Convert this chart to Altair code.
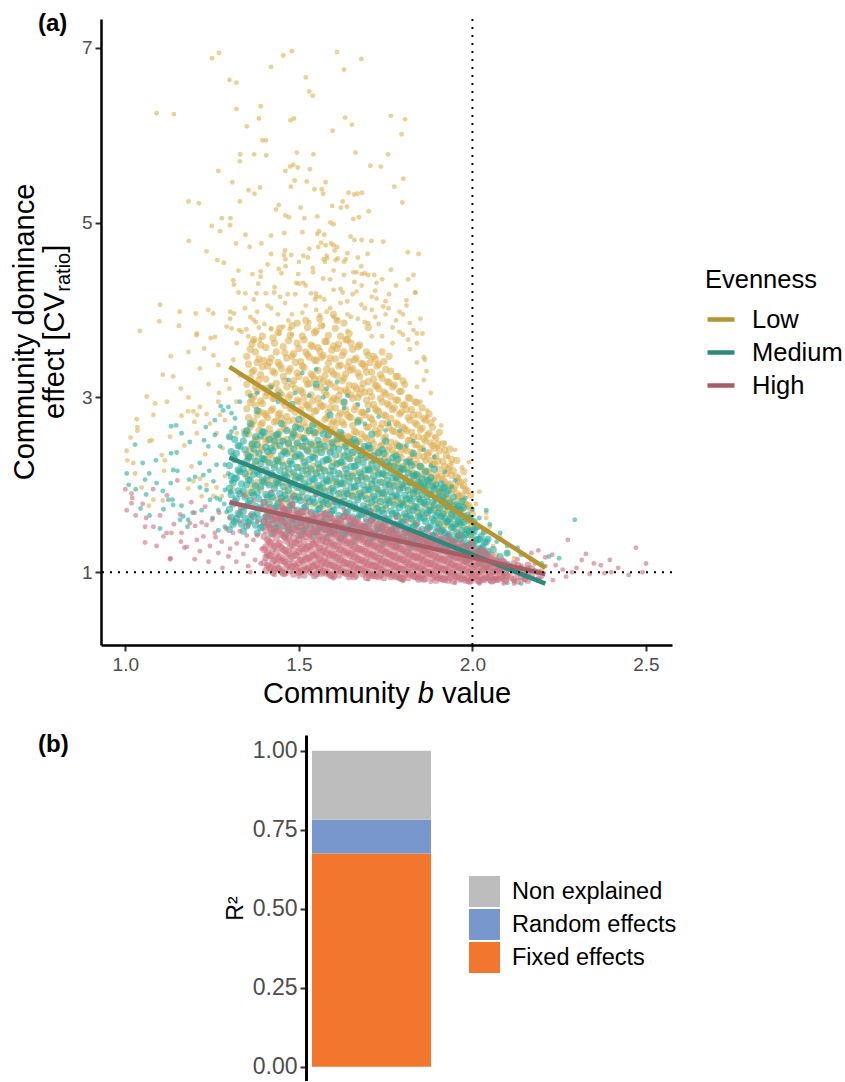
import altair as alt
import pandas as pd

# ------------------------------------------------------------------ panel (a) data
evenness_levels = ["Low", "Medium", "High"]

# dense parts of each cloud: (b value, [CV ratio values at that b])
low_columns = [
    (1.36, [1.92, 2.15, 2.41, 2.66, 2.94, 3.22, 3.55]),
    (1.38, [2.03, 2.28, 2.52, 2.80, 3.08, 3.40]),
    (1.35, [1.88, 2.10, 2.35, 2.60, 2.87, 3.15, 3.47]),
    (1.37, [1.98, 2.22, 2.47, 2.73, 3.01, 3.31, 3.66]),
    (1.40, [2.06, 2.30, 2.55, 2.82, 3.10, 3.42]),
    (1.42, [1.85, 2.08, 2.33, 2.58, 2.85, 3.13, 3.45]),
    (1.39, [1.95, 2.18, 2.43, 2.69, 2.96, 3.26, 3.60]),
    (1.41, [2.02, 2.26, 2.51, 2.77, 3.05, 3.36]),
    (1.44, [1.83, 2.05, 2.29, 2.54, 2.80, 3.08, 3.40, 3.74]),
    (1.46, [1.93, 2.15, 2.39, 2.64, 2.91, 3.19, 3.51]),
    (1.43, [2.00, 2.23, 2.47, 2.72, 2.99, 3.28, 3.62]),
    (1.45, [1.81, 2.03, 2.26, 2.50, 2.76, 3.03, 3.33]),
    (1.48, [1.90, 2.12, 2.36, 2.61, 2.87, 3.15, 3.47, 3.82]),
    (1.50, [1.98, 2.20, 2.44, 2.69, 2.95, 3.24, 3.56]),
    (1.47, [1.80, 2.01, 2.24, 2.48, 2.73, 3.00, 3.30, 3.65]),
    (1.49, [1.88, 2.10, 2.33, 2.57, 2.83, 3.10, 3.40]),
    (1.52, [1.96, 2.18, 2.41, 2.66, 2.92, 3.20, 3.52, 3.88]),
    (1.54, [1.78, 1.99, 2.21, 2.45, 2.70, 2.96, 3.25, 3.58]),
    (1.51, [1.86, 2.07, 2.30, 2.54, 2.79, 3.06, 3.36, 3.70]),
    (1.53, [1.94, 2.15, 2.38, 2.62, 2.88, 3.16, 3.46]),
    (1.56, [1.77, 1.98, 2.20, 2.43, 2.67, 2.93, 3.21, 3.53, 3.90]),
    (1.58, [1.85, 2.06, 2.28, 2.52, 2.77, 3.03, 3.32, 3.64]),
    (1.55, [1.93, 2.14, 2.36, 2.60, 2.85, 3.12, 3.42, 3.76]),
    (1.57, [1.76, 1.96, 2.18, 2.41, 2.65, 2.90, 3.18, 3.48]),
    (1.60, [1.84, 2.04, 2.26, 2.49, 2.73, 2.99, 3.27, 3.59, 3.95]),
    (1.62, [1.91, 2.12, 2.34, 2.57, 2.82, 3.08, 3.37, 3.70]),
    (1.59, [1.75, 1.95, 2.16, 2.39, 2.63, 2.88, 3.15, 3.45]),
    (1.61, [1.83, 2.03, 2.24, 2.47, 2.71, 2.97, 3.25, 3.56, 3.88]),
    (1.64, [1.90, 2.10, 2.32, 2.55, 2.80, 3.06, 3.35, 3.66]),
    (1.66, [1.73, 1.93, 2.14, 2.37, 2.61, 2.86, 3.13, 3.43]),
    (1.63, [1.81, 2.01, 2.22, 2.45, 2.69, 2.94, 3.22, 3.52, 3.85]),
    (1.65, [1.88, 2.08, 2.30, 2.53, 2.77, 3.03, 3.31, 3.62]),
    (1.68, [1.71, 1.91, 2.12, 2.34, 2.58, 2.83, 3.10, 3.39]),
    (1.70, [1.79, 1.98, 2.19, 2.42, 2.66, 2.91, 3.18, 3.48, 3.80]),
    (1.67, [1.86, 2.05, 2.27, 2.50, 2.74, 3.00, 3.28, 3.58]),
    (1.69, [1.69, 1.88, 2.09, 2.31, 2.55, 2.80, 3.06, 3.35]),
    (1.72, [1.77, 1.96, 2.17, 2.39, 2.62, 2.87, 3.14, 3.44]),
    (1.74, [1.84, 2.03, 2.24, 2.46, 2.70, 2.95, 3.22, 3.52]),
    (1.71, [1.67, 1.86, 2.06, 2.28, 2.51, 2.75, 3.01, 3.29]),
    (1.73, [1.75, 1.94, 2.14, 2.36, 2.59, 2.84, 3.10, 3.38]),
    (1.76, [1.82, 2.01, 2.21, 2.43, 2.66, 2.91, 3.17, 3.47]),
    (1.78, [1.65, 1.84, 2.04, 2.25, 2.47, 2.71, 2.97, 3.24]),
    (1.75, [1.73, 1.91, 2.11, 2.32, 2.55, 2.79, 3.04, 3.32]),
    (1.77, [1.80, 1.98, 2.18, 2.40, 2.62, 2.86, 3.12]),
    (1.80, [1.63, 1.81, 2.01, 2.21, 2.43, 2.66, 2.91, 3.19]),
    (1.82, [1.71, 1.89, 2.08, 2.29, 2.51, 2.74, 2.99]),
    (1.79, [1.78, 1.96, 2.15, 2.36, 2.58, 2.81, 3.07]),
    (1.81, [1.61, 1.79, 1.98, 2.18, 2.39, 2.62, 2.86]),
    (1.84, [1.69, 1.87, 2.05, 2.25, 2.46, 2.69, 2.94]),
    (1.86, [1.76, 1.93, 2.12, 2.32, 2.53, 2.76]),
    (1.83, [1.59, 1.76, 1.94, 2.13, 2.33, 2.55, 2.80]),
    (1.85, [1.67, 1.84, 2.02, 2.21, 2.41, 2.63]),
    (1.88, [1.74, 1.91, 2.09, 2.28, 2.48, 2.71]),
    (1.90, [1.57, 1.73, 1.90, 2.08, 2.27, 2.47]),
    (1.87, [1.65, 1.81, 1.98, 2.16, 2.35, 2.57]),
    (1.89, [1.72, 1.88, 2.05, 2.23, 2.42]),
    (1.92, [1.55, 1.70, 1.86, 2.03, 2.21, 2.40]),
    (1.94, [1.63, 1.78, 1.94, 2.11, 2.29]),
    (1.91, [1.48, 1.62, 1.77, 1.93, 2.10]),
    (1.93, [1.55, 1.69, 1.84, 2.00, 2.18]),
    (1.96, [1.42, 1.56, 1.71, 1.87, 2.04]),
    (1.98, [1.49, 1.63, 1.78, 1.94]),
    (1.95, [1.36, 1.50, 1.65, 1.81, 1.98]),
    (1.97, [1.43, 1.57, 1.72, 1.88]),
    (1.99, [1.31, 1.45, 1.60, 1.76]),
    (2.00, [1.38, 1.52, 1.67]),
    # in-between columns of the dense gold area above the teal band
    (1.355, [2.31, 2.58, 2.77, 3.05, 3.38]), (1.365, [2.45, 2.69, 2.98, 3.29, 3.61]),
    (1.375, [2.36, 2.52, 2.91, 3.12, 3.52]), (1.385, [2.62, 2.84, 3.20, 3.44]),
    (1.395, [2.40, 2.71, 2.93, 3.35, 3.70]), (1.405, [2.49, 2.80, 3.02, 3.21, 3.57]),
    (1.415, [2.35, 2.64, 3.11, 3.40]), (1.425, [2.55, 2.87, 2.99, 3.30, 3.68]),
    (1.435, [2.44, 2.73, 3.16, 3.52]), (1.445, [2.61, 2.82, 3.05, 3.37, 3.79]),
    (1.455, [2.38, 2.69, 2.95, 3.24, 3.58]), (1.465, [2.52, 2.78, 3.12, 3.45]),
    (1.475, [2.43, 2.88, 3.03, 3.33, 3.71]), (1.485, [2.57, 2.74, 3.19, 3.50]),
    (1.495, [2.47, 2.66, 2.97, 3.28, 3.62, 3.85]), (1.505, [2.55, 2.86, 3.08, 3.41]),
    (1.515, [2.44, 2.72, 3.00, 3.34, 3.66]), (1.525, [2.60, 2.91, 3.15, 3.49, 3.80]),
    (1.535, [2.48, 2.77, 3.03, 3.27, 3.60]), (1.545, [2.58, 2.84, 3.21, 3.43, 3.74]),
    (1.555, [2.46, 2.69, 2.99, 3.31, 3.57]), (1.565, [2.62, 2.90, 3.11, 3.46, 3.82]),
    (1.575, [2.50, 2.75, 3.06, 3.25, 3.64]), (1.585, [2.57, 2.83, 3.17, 3.39, 3.71]),
    (1.595, [2.45, 2.70, 2.96, 3.30, 3.54]), (1.605, [2.63, 2.88, 3.12, 3.44, 3.79]),
    (1.615, [2.52, 2.79, 3.02, 3.36, 3.61]), (1.625, [2.58, 2.72, 3.19, 3.48]),
    (1.635, [2.47, 2.86, 3.08, 3.27, 3.66]), (1.645, [2.55, 2.78, 3.14, 3.41, 3.73]),
    (1.655, [2.44, 2.68, 2.99, 3.33, 3.55]), (1.665, [2.60, 2.90, 3.10, 3.45]),
    (1.675, [2.49, 2.74, 3.04, 3.24, 3.60]), (1.685, [2.41, 2.83, 3.16, 3.38]),
    (1.695, [2.53, 2.66, 2.97, 3.29, 3.52]), (1.705, [2.36, 2.77, 3.07, 3.40]),
    (1.715, [2.47, 2.70, 2.92, 3.21, 3.47]), (1.725, [2.32, 2.58, 2.85, 3.13, 3.36]),
    (1.735, [2.44, 2.65, 2.99, 3.26]), (1.745, [2.29, 2.53, 2.80, 3.06, 3.41]),
    (1.755, [2.39, 2.71, 2.93, 3.18]), (1.765, [2.26, 2.49, 2.76, 3.01, 3.30]),
    (1.775, [2.35, 2.61, 2.88, 3.14]), (1.785, [2.22, 2.45, 2.69, 2.97, 3.24]),
    (1.795, [2.31, 2.56, 2.83, 3.07]), (1.805, [2.18, 2.41, 2.64, 2.92, 3.15]),
    (1.815, [2.27, 2.51, 2.77, 3.00]), (1.825, [2.14, 2.37, 2.60, 2.86]),
    (1.835, [2.23, 2.46, 2.71, 2.95]), (1.845, [2.10, 2.33, 2.55, 2.80]),
    (1.855, [2.19, 2.42, 2.65, 2.88]), (1.865, [2.06, 2.28, 2.50, 2.74]),
    (1.875, [2.15, 2.37, 2.59, 2.81]), (1.885, [2.02, 2.23, 2.45, 2.66]),
    (1.895, [1.96, 2.11, 2.32, 2.54]), (1.905, [1.92, 2.18, 2.39, 2.60]),
    (1.915, [1.88, 2.06, 2.27, 2.47]), (1.925, [1.84, 2.13, 2.34]),
    (1.935, [1.80, 2.01, 2.21, 2.41]), (1.945, [1.76, 1.95, 2.16]),
    (1.955, [1.72, 1.90, 2.09, 2.28]), (1.965, [1.68, 1.86, 2.03]),
    (1.975, [1.64, 1.81, 1.99, 2.15]), (1.985, [1.60, 1.77, 1.93]),
    (1.995, [1.56, 1.72, 1.88]),
]

low_scatter = [
    (1.09, 6.25), (1.14, 6.24), (1.25, 6.88), (1.27, 6.94), (1.30, 6.63), (1.32, 6.60), (1.455, 6.91),
    (1.48, 6.96), (1.42, 6.78), (1.61, 6.95), (1.68, 6.87), (1.63, 6.75), (1.52, 6.66), (1.53, 6.50),
    (1.54, 6.45), (1.32, 6.30), (1.39, 6.33), (1.385, 6.19), (1.35, 6.10), (1.476, 6.17), (1.486, 6.19),
    (1.633, 6.20), (1.653, 6.12), (1.597, 6.05), (1.765, 6.22), (1.806, 6.18), (1.796, 6.01),
    (1.395, 5.94), (1.405, 5.94), (1.331, 5.78), (1.330, 5.70), (1.371, 5.78), (1.406, 5.77),
    (1.494, 5.80), (1.542, 5.78), (1.663, 5.80), (1.757, 5.78), (1.706, 5.65), (1.736, 5.64),
    (1.268, 5.59), (1.308, 5.46), (1.475, 5.64), (1.484, 5.66), (1.461, 5.59), (1.497, 5.63),
    (1.532, 5.61), (1.477, 5.41), (1.488, 5.48), (1.523, 5.47), (1.577, 5.46), (1.801, 5.50),
    (1.775, 5.41), (1.355, 5.37), (1.372, 5.33), (1.388, 5.40), (1.545, 5.38), (1.566, 5.38),
    (1.570, 5.33), (1.643, 5.34), (1.659, 5.32), (1.669, 5.33), (1.682, 5.34), (1.182, 5.24),
    (1.212, 5.22), (1.330, 5.24), (1.434, 5.15), (1.442, 5.20), (1.505, 5.17), (1.596, 5.19),
    (1.626, 5.24), (1.621, 5.17), (1.639, 5.18), (1.701, 5.13), (1.798, 5.23), (1.278, 5.05),
    (1.303, 5.05), (1.302, 4.97), (1.249, 4.96), (1.273, 4.90), (1.461, 5.08), (1.471, 5.06),
    (1.516, 5.05), (1.553, 5.07), (1.657, 5.04), (1.673, 5.06), (1.591, 5.00), (1.600, 4.98),
    (1.553, 4.87), (1.558, 4.90), (1.573, 4.86), (1.458, 4.88), (1.510, 4.89), (1.183, 4.79),
    (1.234, 4.67), (1.265, 4.57), (1.284, 4.54), (1.319, 4.76), (1.346, 4.86), (1.358, 4.72),
    (1.392, 4.76), (1.420, 4.85), (1.556, 4.72), (1.564, 4.77), (1.577, 4.74), (1.593, 4.76),
    (1.600, 4.74), (1.649, 4.84), (1.660, 4.80), (1.681, 4.80), (1.698, 4.64), (1.709, 4.79),
    (1.743, 4.78), (1.814, 4.66), (1.845, 4.64), (1.420, 4.64), (1.457, 4.63), (1.461, 4.58),
    (1.478, 4.63), (1.513, 4.62), (1.526, 4.60), (1.571, 4.58), (1.581, 4.59), (1.603, 4.68),
    (1.612, 4.59), (1.635, 4.58), (1.640, 4.65), (1.326, 4.45), (1.366, 4.41), (1.390, 4.44),
    (1.410, 4.52), (1.442, 4.47), (1.462, 4.50), (1.498, 4.41), (1.541, 4.43), (1.575, 4.55),
    (1.606, 4.57), (1.657, 4.43), (1.666, 4.43), (1.681, 4.41), (1.690, 4.42), (1.717, 4.40),
    (1.724, 4.31), (1.765, 4.46), (1.815, 4.35), (1.836, 4.20), (1.253, 3.96), (1.311, 4.34),
    (1.313, 4.29), (1.302, 3.98), (1.313, 3.96), (1.326, 4.20), (1.346, 4.19), (1.378, 4.19),
    (1.383, 4.30), (1.405, 4.19), (1.429, 4.20), (1.446, 4.15), (1.468, 4.18), (1.492, 4.31),
    (1.500, 4.30), (1.513, 4.31), (1.535, 4.19), (1.549, 4.19), (1.547, 4.12), (1.561, 4.15),
    (1.573, 4.12), (1.600, 4.23), (1.626, 4.20), (1.655, 4.18), (1.666, 4.21), (1.681, 4.28),
    (1.724, 4.13), (1.743, 4.04), (1.758, 4.02), (1.810, 4.11), (1.835, 4.20), (1.863, 3.43),
    (1.868, 3.30), (1.815, 3.66), (1.830, 3.77), (1.856, 3.73), (1.205, 3.71), (1.227, 3.56),
    (1.182, 3.52), (1.258, 3.69), (1.292, 3.81), (1.306, 3.79), (1.328, 3.77), (1.349, 3.78),
    (1.376, 3.86), (1.371, 3.65), (1.388, 3.66), (1.420, 3.79), (1.444, 3.73), (1.455, 3.81),
    (1.474, 3.78), (1.52, 4.05), (1.58, 3.98), (1.62, 4.08), (1.64, 3.95), (1.69, 4.02),
    (1.72, 3.92), (1.75, 4.10), (1.78, 3.88), (1.80, 3.95), (1.67, 3.90), (1.60, 3.92),
    (1.55, 4.00), (1.48, 3.95), (1.42, 4.02), (1.38, 3.98), (1.71, 4.15), (1.59, 4.35),
    (1.63, 4.40), (1.70, 3.85), (1.74, 3.70), (1.77, 3.62), (1.79, 3.75), (1.82, 3.55),
    (1.84, 3.40), (1.86, 3.20), (1.88, 3.05), (1.85, 2.95), (1.87, 2.85), (1.89, 2.75),
    (1.91, 2.68), (1.86, 3.46), (1.84, 3.73), (1.84, 3.12), (1.87, 2.78), (1.89, 2.55),
    (1.90, 2.43), (1.92, 2.48), (1.93, 2.32), (1.94, 2.25), (1.99, 2.26), (1.96, 2.09),
    (1.97, 1.98), (2.04, 1.68), (2.04, 1.62), (2.03, 1.45), (2.00, 1.57), (2.12, 1.16),
    (2.17, 1.14), (2.02, 0.93), (2.03, 1.06), (2.06, 1.30), (2.08, 1.40), (2.10, 1.22),
    (2.14, 1.08), (2.20, 1.02), (2.01, 1.78), (2.05, 1.52), (2.07, 1.20), (1.95, 2.40),
    (1.97, 2.20), (1.98, 2.05), (2.02, 1.92),
    (1.004, 2.39), (1.006, 2.28), (1.015, 2.54), (1.035, 2.66), (1.035, 2.62), (1.023, 2.25),
    (1.028, 2.13), (1.047, 1.97), (1.069, 2.50), (1.076, 2.51), (1.086, 2.93), (1.105, 2.34),
    (1.114, 2.28), (1.112, 2.16), (1.081, 2.80), (1.129, 2.55), (1.162, 2.79), (1.181, 2.84),
    (1.206, 2.59), (1.196, 2.84), (1.207, 2.80), (1.215, 2.89), (1.199, 2.72), (1.234, 2.81),
    (1.244, 2.70), (1.268, 2.95), (1.263, 2.59), (1.273, 2.80), (1.287, 2.74), (1.300, 2.55),
    (1.321, 2.59), (1.191, 2.21), (1.196, 2.04), (1.181, 1.96), (1.215, 2.07), (1.234, 2.00),
    (1.263, 1.97), (1.254, 1.87), (1.287, 2.10), (1.278, 1.87), (1.220, 1.87), (1.068, 1.76),
    (1.081, 1.83), (1.108, 1.82), (1.042, 3.76), (1.098, 3.87), (1.155, 3.82), (1.206, 3.73),
    (1.246, 3.68), (1.131, 3.47), (1.108, 3.26), (1.062, 3.01), (1.033, 2.75), (1.138, 3.24),
    (1.182, 3.00), (1.215, 3.33), (1.254, 3.48), (1.268, 3.37), (1.311, 3.43), (1.321, 3.62),
    (1.354, 3.70), (1.369, 3.89), (1.302, 3.90), (1.100, 4.06), (1.157, 3.98), (1.203, 3.96),
    (1.239, 4.00), (1.31, 2.35), (1.32, 2.95), (1.33, 3.25), (1.34, 2.62), (1.30, 3.10),
    (1.31, 1.95), (1.29, 3.20), (1.33, 2.15), (1.27, 3.05), (1.24, 3.15), (1.16, 3.10),
    (1.12, 2.95), (1.17, 2.45), (1.23, 2.35), (1.28, 2.42),
    (1.36, 3.92), (1.37, 4.12), (1.39, 4.38), (1.40, 3.84), (1.41, 4.05), (1.43, 4.26),
    (1.44, 3.95), (1.45, 4.42), (1.46, 4.08), (1.47, 3.88), (1.49, 4.18), (1.50, 4.55),
    (1.51, 3.97), (1.52, 4.28), (1.53, 3.86), (1.54, 4.48), (1.55, 4.15), (1.56, 3.94),
    (1.57, 4.36), (1.58, 4.62), (1.59, 4.02), (1.60, 4.45), (1.61, 3.89), (1.62, 4.24),
    (1.63, 4.55), (1.64, 4.10), (1.65, 3.92), (1.66, 4.32), (1.67, 4.60), (1.68, 4.06),
    (1.69, 3.86), (1.70, 4.40), (1.71, 4.00), (1.72, 4.22), (1.73, 3.84), (1.74, 4.35),
    (1.75, 3.95), (1.76, 4.18), (1.77, 3.80), (1.78, 4.28), (1.79, 3.98), (1.80, 3.72),
    (1.81, 4.05), (1.82, 3.85), (1.83, 4.40), (1.84, 3.62), (1.85, 3.90), (1.53, 4.70),
    (1.46, 4.68), (1.61, 4.72), (1.68, 4.50), (1.42, 3.78), (1.48, 3.72), (1.57, 3.82),
    (1.64, 3.76), (1.71, 3.70), (1.385, 3.80), (1.345, 4.02), (1.335, 3.75),
]

medium_columns = [
    (1.31, [1.55, 1.78, 2.02, 2.31]),
    (1.33, [1.66, 1.90, 2.15, 2.44]),
    (1.30, [1.49, 1.72, 1.96, 2.22, 2.55]),
    (1.32, [1.61, 1.84, 2.08, 2.36]),
    (1.35, [1.53, 1.76, 2.00, 2.27, 2.62]),
    (1.37, [1.64, 1.88, 2.12, 2.41]),
    (1.34, [1.47, 1.70, 1.93, 2.18, 2.50]),
    (1.36, [1.59, 1.82, 2.05, 2.32, 2.70]),
    (1.39, [1.51, 1.74, 1.98, 2.24, 2.56]),
    (1.41, [1.63, 1.86, 2.10, 2.38]),
    (1.38, [1.45, 1.68, 1.91, 2.15, 2.46, 2.85]),
    (1.40, [1.57, 1.80, 2.03, 2.29, 2.60]),
    (1.43, [1.50, 1.73, 1.96, 2.20, 2.50]),
    (1.45, [1.62, 1.85, 2.08, 2.34, 2.70]),
    (1.42, [1.44, 1.67, 1.90, 2.13, 2.42]),
    (1.44, [1.56, 1.79, 2.02, 2.27, 2.58, 3.02]),
    (1.47, [1.48, 1.71, 1.94, 2.18, 2.47]),
    (1.49, [1.60, 1.83, 2.06, 2.32, 2.66]),
    (1.46, [1.43, 1.65, 1.88, 2.11, 2.38]),
    (1.48, [1.55, 1.77, 2.00, 2.24, 2.54, 2.92]),
    (1.51, [1.47, 1.69, 1.92, 2.16, 2.44]),
    (1.53, [1.59, 1.81, 2.04, 2.29, 2.62]),
    (1.50, [1.42, 1.63, 1.86, 2.09, 2.35, 2.75]),
    (1.52, [1.53, 1.75, 1.98, 2.22, 2.50]),
    (1.55, [1.46, 1.67, 1.90, 2.13, 2.40, 3.15]),
    (1.57, [1.57, 1.79, 2.02, 2.27, 2.58]),
    (1.54, [1.41, 1.62, 1.84, 2.07, 2.32, 2.68]),
    (1.56, [1.52, 1.73, 1.96, 2.19, 2.46]),
    (1.59, [1.45, 1.66, 1.88, 2.11, 2.37, 2.80]),
    (1.61, [1.56, 1.77, 2.00, 2.24, 2.53]),
    (1.58, [1.40, 1.61, 1.82, 2.05, 2.29, 2.64]),
    (1.60, [1.50, 1.71, 1.93, 2.16, 2.42]),
    (1.63, [1.44, 1.64, 1.86, 2.08, 2.33, 2.95]),
    (1.65, [1.54, 1.75, 1.97, 2.21, 2.49]),
    (1.62, [1.38, 1.59, 1.80, 2.02, 2.26, 2.60]),
    (1.64, [1.48, 1.69, 1.90, 2.13, 2.38]),
    (1.67, [1.42, 1.62, 1.83, 2.05, 2.29, 2.72]),
    (1.69, [1.52, 1.72, 1.94, 2.17, 2.44]),
    (1.66, [1.36, 1.56, 1.77, 1.98, 2.21, 2.52]),
    (1.68, [1.46, 1.66, 1.87, 2.09, 2.34]),
    (1.71, [1.40, 1.60, 1.80, 2.01, 2.24, 2.58]),
    (1.73, [1.50, 1.69, 1.90, 2.12, 2.37]),
    (1.70, [1.34, 1.54, 1.74, 1.95, 2.17, 2.45]),
    (1.72, [1.44, 1.63, 1.83, 2.04, 2.28]),
    (1.75, [1.38, 1.57, 1.77, 1.98, 2.20, 2.50]),
    (1.77, [1.48, 1.67, 1.87, 2.08, 2.31]),
    (1.74, [1.32, 1.51, 1.71, 1.91, 2.13, 2.40]),
    (1.76, [1.42, 1.61, 1.80, 2.00, 2.22]),
    (1.79, [1.36, 1.55, 1.74, 1.94, 2.15, 2.44]),
    (1.81, [1.46, 1.64, 1.84, 2.04, 2.26]),
    (1.78, [1.30, 1.49, 1.68, 1.88, 2.09, 2.33]),
    (1.80, [1.40, 1.58, 1.77, 1.97, 2.18]),
    (1.83, [1.34, 1.52, 1.71, 1.90, 2.10, 2.36]),
    (1.85, [1.44, 1.62, 1.81, 2.00, 2.21]),
    (1.82, [1.28, 1.46, 1.65, 1.84, 2.03, 2.26]),
    (1.84, [1.38, 1.56, 1.74, 1.93, 2.12]),
    (1.87, [1.32, 1.50, 1.68, 1.86, 2.05]),
    (1.89, [1.42, 1.59, 1.77, 1.96, 2.18]),
    (1.86, [1.26, 1.44, 1.62, 1.80, 1.99]),
    (1.88, [1.36, 1.53, 1.71, 1.89, 2.08]),
    (1.91, [1.30, 1.47, 1.64, 1.82, 2.01]),
    (1.93, [1.24, 1.41, 1.58, 1.75, 1.93]),
    (1.90, [1.34, 1.51, 1.68, 1.85]),
    (1.92, [1.28, 1.45, 1.62, 1.79, 1.97]),
    (1.95, [1.22, 1.38, 1.55, 1.72]),
    (1.97, [1.32, 1.48, 1.64, 1.81]),
    (1.94, [1.19, 1.35, 1.51, 1.67]),
    (1.96, [1.26, 1.42, 1.58, 1.75]),
    (1.99, [1.16, 1.31, 1.47, 1.62]),
    (2.01, [1.22, 1.37, 1.52]),
    (1.98, [1.13, 1.28, 1.43]),
    (2.00, [1.19, 1.33, 1.48]),
    (2.02, [1.10, 1.24, 1.38]),
    (2.03, [1.15, 1.29]),
    (2.04, [1.07, 1.21, 1.35]),
    (2.06, [1.12, 1.26]),
    (2.08, [1.04, 1.18]),
    (2.10, [1.09, 1.22]),
    # in-between columns of the dense teal band
    (1.305, [1.63, 1.89, 2.10, 2.38]), (1.315, [1.58, 1.81, 2.07, 2.29, 2.52]),
    (1.325, [1.67, 1.93, 2.17, 2.45]), (1.335, [1.55, 1.74, 2.01, 2.24]),
    (1.345, [1.62, 1.86, 2.13, 2.40, 2.58]), (1.355, [1.57, 1.79, 2.06, 2.33]),
    (1.365, [1.66, 1.91, 2.20, 2.47]), (1.375, [1.54, 1.76, 1.99, 2.27, 2.55]),
    (1.385, [1.61, 1.84, 2.12, 2.36]), (1.395, [1.52, 1.73, 2.05, 2.30, 2.61]),
    (1.405, [1.64, 1.89, 2.17, 2.43]), (1.415, [1.55, 1.78, 2.00, 2.25, 2.52]),
    (1.425, [1.60, 1.86, 2.11, 2.39]), (1.435, [1.51, 1.75, 2.03, 2.28, 2.57]),
    (1.445, [1.63, 1.90, 2.16, 2.45]), (1.455, [1.53, 1.72, 1.98, 2.22, 2.50]),
    (1.465, [1.58, 1.84, 2.09, 2.36, 2.62]), (1.475, [1.49, 1.76, 2.02, 2.27]),
    (1.485, [1.61, 1.87, 2.14, 2.41, 2.59]), (1.495, [1.52, 1.71, 1.97, 2.20, 2.48]),
    (1.505, [1.57, 1.82, 2.08, 2.33, 2.64]), (1.515, [1.48, 1.74, 2.01, 2.26, 2.53]),
    (1.525, [1.60, 1.85, 2.12, 2.39]), (1.535, [1.50, 1.69, 1.95, 2.18, 2.46]),
    (1.545, [1.55, 1.80, 2.06, 2.31, 2.60]), (1.555, [1.47, 1.72, 1.99, 2.24, 2.51]),
    (1.565, [1.58, 1.83, 2.10, 2.37]), (1.575, [1.49, 1.67, 1.93, 2.16, 2.44]),
    (1.585, [1.53, 1.78, 2.04, 2.29, 2.57]), (1.595, [1.46, 1.70, 1.96, 2.21, 2.48]),
    (1.605, [1.56, 1.81, 2.07, 2.34]), (1.615, [1.47, 1.65, 1.90, 2.13, 2.41]),
    (1.625, [1.51, 1.76, 2.01, 2.26, 2.53]), (1.635, [1.44, 1.68, 1.93, 2.18, 2.44]),
    (1.645, [1.54, 1.79, 2.04, 2.30]), (1.655, [1.45, 1.63, 1.87, 2.10, 2.37]),
    (1.665, [1.49, 1.73, 1.98, 2.22, 2.48]), (1.675, [1.42, 1.66, 1.90, 2.14, 2.39]),
    (1.685, [1.52, 1.76, 2.00, 2.25]), (1.695, [1.43, 1.61, 1.84, 2.07, 2.32]),
    (1.705, [1.47, 1.70, 1.94, 2.17, 2.42]), (1.715, [1.40, 1.63, 1.87, 2.10, 2.33]),
    (1.725, [1.50, 1.73, 1.96, 2.20]), (1.735, [1.41, 1.58, 1.81, 2.03, 2.27]),
    (1.745, [1.45, 1.67, 1.90, 2.12, 2.36]), (1.755, [1.38, 1.60, 1.83, 2.05, 2.26]),
    (1.765, [1.48, 1.70, 1.92, 2.14]), (1.775, [1.39, 1.55, 1.77, 1.99, 2.21]),
    (1.785, [1.43, 1.64, 1.86, 2.07, 2.29]), (1.795, [1.36, 1.57, 1.79, 2.00, 2.19]),
    (1.805, [1.46, 1.67, 1.88, 2.08]), (1.815, [1.37, 1.52, 1.73, 1.94, 2.14]),
    (1.825, [1.41, 1.61, 1.82, 2.02, 2.22]), (1.835, [1.34, 1.54, 1.75, 1.95, 2.11]),
    (1.845, [1.44, 1.64, 1.84, 2.03]), (1.855, [1.35, 1.49, 1.69, 1.89, 2.07]),
    (1.865, [1.39, 1.58, 1.78, 1.97, 2.15]), (1.875, [1.32, 1.51, 1.71, 1.90, 2.04]),
    (1.885, [1.42, 1.61, 1.80, 1.98]), (1.895, [1.33, 1.46, 1.65, 1.84, 2.00]),
    (1.905, [1.37, 1.55, 1.74, 1.92]), (1.915, [1.30, 1.48, 1.67, 1.85, 1.96]),
    (1.925, [1.40, 1.58, 1.76, 1.90]), (1.935, [1.31, 1.43, 1.61, 1.79]),
    (1.945, [1.35, 1.52, 1.70, 1.86]), (1.955, [1.28, 1.45, 1.63, 1.77]),
    (1.965, [1.38, 1.55, 1.72]), (1.975, [1.29, 1.40, 1.57, 1.74]),
    (1.985, [1.33, 1.49, 1.65]), (1.995, [1.26, 1.43, 1.60]),
    (2.005, [1.30, 1.46, 1.58]), (2.015, [1.23, 1.37, 1.52]),
    (2.025, [1.27, 1.41]), (2.035, [1.20, 1.34, 1.47]),
    (2.045, [1.24, 1.38]),
]

medium_scatter = [
    (1.004, 2.13), (1.028, 2.46), (1.057, 2.06), (1.069, 2.13), (1.060, 1.89), (1.044, 1.73),
    (1.088, 2.28), (1.108, 1.93), (1.132, 2.67), (1.146, 2.68), (1.132, 2.36), (1.148, 2.37),
    (1.162, 2.59), (1.138, 2.17), (1.150, 2.16), (1.131, 2.02), (1.124, 1.83), (1.136, 1.83),
    (1.100, 1.50), (1.162, 1.76), (1.167, 1.64), (1.181, 1.60), (1.194, 1.68), (1.184, 2.06),
    (1.201, 2.09), (1.215, 2.25), (1.186, 2.49), (1.227, 2.51), (1.239, 2.44), (1.232, 2.66),
    (1.258, 2.57), (1.273, 2.44), (1.275, 2.90), (1.258, 2.74), (1.282, 2.85), (1.297, 2.89),
    (1.306, 2.82), (1.316, 2.65), (1.306, 2.61), (1.316, 2.76), (1.215, 1.97), (1.234, 1.94),
    (1.244, 1.83), (1.220, 1.71), (1.268, 1.71), (1.252, 1.62), (1.263, 1.85), (1.254, 2.04),
    (1.225, 2.11), (1.242, 2.16), (1.263, 2.23), (1.287, 2.23), (1.297, 2.13), (1.306, 2.04),
    (1.287, 1.94), (1.303, 1.92), (1.273, 1.83), (1.285, 1.78), (1.268, 1.48), (1.287, 1.52),
    (1.292, 1.69), (1.179, 1.52), (1.158, 1.60), (1.138, 1.77), (1.01, 2.00), (1.05, 2.25),
    (1.07, 1.65), (1.09, 2.02), (1.11, 1.72), (1.03, 1.95),
    (1.33, 2.95), (1.36, 3.02), (1.38, 3.05), (1.42, 3.12), (1.44, 2.95), (1.47, 3.20),
    (1.49, 3.05), (1.51, 3.28), (1.53, 3.02), (1.55, 3.32), (1.57, 3.00), (1.58, 3.10),
    (1.61, 3.18), (1.63, 2.88), (1.64, 3.02), (1.67, 2.92), (1.69, 2.70), (1.70, 2.85),
    (1.73, 2.78), (1.75, 2.62), (1.76, 2.70), (1.79, 2.62), (1.81, 2.45), (1.83, 2.50),
    (1.86, 2.40), (1.88, 2.22), (1.89, 2.32), (1.92, 2.15), (1.94, 1.98), (1.95, 2.05),
    (1.98, 1.85), (2.00, 1.72),
    (2.02, 1.62), (2.04, 1.71), (2.05, 1.55), (2.03, 1.18), (2.02, 1.28), (2.07, 1.35),
    (2.09, 0.98), (2.11, 1.08), (2.13, 1.28), (2.15, 0.95), (2.17, 1.15), (2.19, 0.92),
    (2.22, 1.18), (2.25, 1.16), (2.295, 1.60), (2.06, 0.93), (2.12, 0.90), (2.16, 1.05),
    (2.08, 1.45), (2.10, 1.30), (2.14, 1.20), (2.18, 1.02), (2.20, 1.10), (2.05, 0.90),
    (2.10, 0.88), (2.14, 0.87),
]

high_columns = [
    (1.41, [1.08, 1.22, 1.37, 1.55, 1.71]),
    (1.43, [1.03, 1.15, 1.30, 1.46, 1.62]),
    (1.40, [1.11, 1.26, 1.41, 1.58, 1.80]),
    (1.42, [1.05, 1.19, 1.33, 1.50, 1.66]),
    (1.45, [1.01, 1.13, 1.28, 1.44, 1.60, 1.75]),
    (1.47, [1.09, 1.23, 1.38, 1.53, 1.69]),
    (1.44, [1.04, 1.16, 1.31, 1.47, 1.63]),
    (1.46, [0.99, 1.12, 1.25, 1.40, 1.56, 1.72]),
    (1.49, [1.07, 1.20, 1.34, 1.49, 1.65]),
    (1.51, [1.02, 1.14, 1.29, 1.43, 1.59]),
    (1.48, [1.06, 1.18, 1.32, 1.46, 1.61, 1.78]),
    (1.50, [1.00, 1.11, 1.24, 1.37, 1.52, 1.67]),
    (1.53, [1.05, 1.17, 1.30, 1.44, 1.58]),
    (1.55, [0.98, 1.09, 1.21, 1.35, 1.49, 1.64]),
    (1.52, [1.03, 1.15, 1.27, 1.41, 1.55, 1.70]),
    (1.54, [1.07, 1.19, 1.32, 1.46, 1.60]),
    (1.57, [1.01, 1.12, 1.24, 1.37, 1.51, 1.66]),
    (1.59, [0.97, 1.08, 1.20, 1.33, 1.47, 1.62]),
    (1.56, [1.04, 1.16, 1.28, 1.41, 1.55]),
    (1.58, [0.99, 1.10, 1.22, 1.35, 1.49, 1.68]),
    (1.61, [1.05, 1.17, 1.30, 1.43, 1.57]),
    (1.63, [1.00, 1.11, 1.23, 1.36, 1.50, 1.64]),
    (1.60, [0.96, 1.07, 1.19, 1.31, 1.44, 1.58]),
    (1.62, [1.02, 1.14, 1.26, 1.39, 1.53]),
    (1.65, [0.98, 1.09, 1.21, 1.33, 1.46, 1.61]),
    (1.67, [1.04, 1.15, 1.27, 1.40, 1.54]),
    (1.64, [0.99, 1.10, 1.22, 1.34, 1.48, 1.63]),
    (1.66, [0.95, 1.06, 1.18, 1.29, 1.42, 1.56]),
    (1.69, [1.01, 1.12, 1.24, 1.37, 1.51]),
    (1.71, [0.97, 1.08, 1.20, 1.32, 1.45, 1.59]),
    (1.68, [1.03, 1.14, 1.26, 1.38, 1.52]),
    (1.70, [0.98, 1.09, 1.21, 1.33, 1.46]),
    (1.73, [0.95, 1.05, 1.16, 1.28, 1.40, 1.55]),
    (1.75, [1.00, 1.11, 1.23, 1.35, 1.49]),
    (1.72, [0.96, 1.07, 1.18, 1.30, 1.43]),
    (1.74, [1.02, 1.13, 1.25, 1.37, 1.51]),
    (1.77, [0.97, 1.08, 1.19, 1.31, 1.44]),
    (1.79, [0.94, 1.04, 1.15, 1.27, 1.39, 1.53]),
    (1.76, [0.99, 1.10, 1.21, 1.33, 1.46]),
    (1.78, [0.95, 1.06, 1.17, 1.29, 1.41]),
    (1.81, [1.01, 1.12, 1.23, 1.35, 1.48]),
    (1.83, [0.96, 1.07, 1.18, 1.30, 1.42]),
    (1.80, [0.93, 1.03, 1.14, 1.25, 1.37]),
    (1.82, [0.98, 1.09, 1.20, 1.32, 1.45]),
    (1.85, [0.94, 1.05, 1.16, 1.27, 1.39]),
    (1.87, [1.00, 1.11, 1.22, 1.34]),
    (1.84, [0.95, 1.06, 1.17, 1.28, 1.41]),
    (1.86, [0.92, 1.02, 1.13, 1.24, 1.36]),
    (1.89, [0.97, 1.08, 1.19, 1.31]),
    (1.91, [0.93, 1.04, 1.15, 1.26, 1.38]),
    (1.88, [0.99, 1.10, 1.21, 1.33]),
    (1.90, [0.94, 1.05, 1.16, 1.27]),
    (1.93, [0.91, 1.01, 1.12, 1.23, 1.35]),
    (1.95, [0.96, 1.07, 1.18, 1.29]),
    (1.92, [0.92, 1.03, 1.14, 1.25]),
    (1.94, [0.98, 1.09, 1.20, 1.31]),
    (1.97, [0.93, 1.04, 1.15, 1.26]),
    (1.99, [0.90, 1.00, 1.11, 1.22]),
    (1.96, [0.95, 1.06, 1.17, 1.28]),
    (1.98, [0.91, 1.02, 1.13, 1.24]),
    (2.01, [0.97, 1.08, 1.19]),
    (2.03, [0.92, 1.03, 1.14, 1.25]),
    (2.00, [0.94, 1.05, 1.16]),
    (2.02, [0.90, 1.00, 1.11, 1.21]),
    (2.05, [0.96, 1.07, 1.17]),
    (2.07, [0.92, 1.03, 1.13]),
    (2.04, [0.95, 1.06, 1.15]),
    (2.06, [0.91, 1.01, 1.10]),
    (2.08, [0.98, 1.08]),
    (2.09, [0.93, 1.03, 1.12]),
    (2.10, [0.96, 1.06]),
    (2.12, [0.92, 1.02, 1.10]),
    (2.14, [0.95, 1.05]),
    (2.16, [0.91, 1.00, 1.08]),
    # in-between columns of the dense pink band
    (1.405, [1.02, 1.17, 1.29, 1.48, 1.63]), (1.415, [1.06, 1.20, 1.35, 1.52, 1.74]),
    (1.425, [1.00, 1.13, 1.27, 1.44, 1.60]), (1.435, [1.09, 1.23, 1.39, 1.56, 1.70]),
    (1.445, [1.04, 1.18, 1.33, 1.49, 1.66]), (1.455, [0.99, 1.14, 1.26, 1.42, 1.58, 1.73]),
    (1.465, [1.07, 1.21, 1.36, 1.51, 1.68]), (1.475, [1.02, 1.16, 1.30, 1.45, 1.62]),
    (1.485, [0.98, 1.10, 1.25, 1.39, 1.55, 1.71]), (1.495, [1.05, 1.19, 1.33, 1.48, 1.64]),
    (1.505, [1.01, 1.14, 1.27, 1.42, 1.57, 1.69]), (1.515, [0.97, 1.08, 1.22, 1.35, 1.50, 1.63]),
    (1.525, [1.04, 1.16, 1.29, 1.45, 1.60]), (1.535, [1.00, 1.12, 1.25, 1.38, 1.53, 1.67]),
    (1.545, [0.96, 1.07, 1.20, 1.33, 1.47, 1.61]), (1.555, [1.03, 1.15, 1.28, 1.42, 1.57]),
    (1.565, [0.99, 1.10, 1.23, 1.36, 1.50, 1.64]), (1.575, [1.05, 1.17, 1.30, 1.44, 1.59]),
    (1.585, [1.00, 1.13, 1.26, 1.39, 1.53]), (1.595, [0.96, 1.08, 1.21, 1.34, 1.47, 1.62]),
    (1.605, [1.02, 1.15, 1.27, 1.41, 1.55]), (1.615, [0.97, 1.09, 1.22, 1.35, 1.49, 1.61]),
    (1.625, [1.04, 1.16, 1.29, 1.42, 1.56]), (1.635, [0.99, 1.11, 1.24, 1.37, 1.51]),
    (1.645, [0.95, 1.06, 1.19, 1.31, 1.45, 1.59]), (1.655, [1.01, 1.13, 1.26, 1.39, 1.53]),
    (1.665, [0.97, 1.08, 1.21, 1.34, 1.47, 1.60]), (1.675, [1.03, 1.15, 1.27, 1.41, 1.55]),
    (1.685, [0.98, 1.10, 1.23, 1.35, 1.49]), (1.695, [0.94, 1.05, 1.17, 1.30, 1.43, 1.57]),
    (1.705, [1.00, 1.12, 1.24, 1.37, 1.50]), (1.715, [0.96, 1.07, 1.19, 1.31, 1.44, 1.56]),
    (1.725, [1.02, 1.13, 1.26, 1.38, 1.52]), (1.735, [0.97, 1.09, 1.21, 1.33, 1.46]),
    (1.745, [0.94, 1.04, 1.16, 1.28, 1.41, 1.54]), (1.755, [0.99, 1.11, 1.23, 1.35, 1.48]),
    (1.765, [0.95, 1.06, 1.18, 1.30, 1.42, 1.52]), (1.775, [1.01, 1.12, 1.24, 1.36, 1.49]),
    (1.785, [0.96, 1.07, 1.19, 1.31, 1.43]), (1.795, [0.93, 1.03, 1.15, 1.27, 1.38, 1.50]),
    (1.805, [0.98, 1.09, 1.21, 1.33, 1.45]), (1.815, [0.94, 1.05, 1.16, 1.28, 1.40]),
    (1.825, [1.00, 1.11, 1.22, 1.34, 1.46]), (1.835, [0.95, 1.06, 1.18, 1.29, 1.41]),
    (1.845, [0.92, 1.02, 1.13, 1.24, 1.36, 1.47]), (1.855, [0.97, 1.08, 1.19, 1.31, 1.42]),
    (1.865, [0.93, 1.04, 1.15, 1.26, 1.38]), (1.875, [0.99, 1.10, 1.21, 1.32, 1.43]),
    (1.885, [0.94, 1.05, 1.16, 1.28, 1.39]), (1.895, [0.91, 1.01, 1.12, 1.23, 1.35]),
    (1.905, [0.96, 1.07, 1.18, 1.30, 1.40]), (1.915, [0.92, 1.03, 1.14, 1.25, 1.36]),
    (1.925, [0.98, 1.09, 1.20, 1.31]), (1.935, [0.94, 1.05, 1.16, 1.27, 1.37]),
    (1.945, [0.90, 1.00, 1.11, 1.22, 1.33]), (1.955, [0.95, 1.06, 1.17, 1.28]),
    (1.965, [0.92, 1.02, 1.13, 1.24, 1.34]), (1.975, [0.97, 1.08, 1.19, 1.29]),
    (1.985, [0.93, 1.04, 1.15, 1.26]), (1.995, [0.90, 0.99, 1.10, 1.21, 1.31]),
    (2.005, [0.95, 1.06, 1.17, 1.27]), (2.015, [0.91, 1.01, 1.12, 1.22]),
    (2.025, [0.96, 1.07, 1.18]), (2.035, [0.92, 1.03, 1.13, 1.23]),
    (2.045, [0.94, 1.04, 1.15]), (2.055, [0.90, 1.00, 1.10, 1.19]),
    (2.065, [0.95, 1.05, 1.14]), (2.075, [0.92, 1.02, 1.11]),
    (2.085, [0.95, 1.05, 1.13]), (2.095, [0.91, 1.00, 1.09]),
    (2.11, [0.94, 1.04]), (2.13, [0.90, 0.99, 1.08]),
    (2.15, [0.93, 1.02]), (2.17, [0.95, 1.04]),
    (2.19, [0.92, 1.00]),
]

high_scatter = [
    (1.004, 1.71), (1.018, 1.90), (1.018, 1.79), (1.057, 1.52), (1.081, 1.52), (1.110, 1.41),
    (1.057, 1.34), (1.129, 1.15), (1.119, 1.45), (1.133, 1.45), (1.158, 1.66), (1.162, 1.45),
    (1.186, 1.56), (1.201, 1.53), (1.177, 1.29), (1.206, 1.37), (1.225, 1.41), (1.215, 1.24),
    (1.244, 1.30), (1.268, 1.22), (1.278, 1.35), (1.258, 1.45), (1.234, 1.54), (1.302, 1.27),
    (1.297, 1.18), (1.321, 1.33), (1.340, 1.21), (1.354, 1.07), (1.374, 1.14), (1.330, 1.47),
    (1.354, 1.53), (1.369, 1.37), (1.393, 1.27), (1.407, 1.18), (1.150, 2.05), (1.00, 1.95),
    (1.02, 1.85), (1.05, 1.78), (1.03, 1.65), (1.13, 1.16), (1.17, 1.28), (1.08, 1.95),
    (1.12, 1.88), (1.19, 1.80), (1.23, 1.75), (1.27, 1.68), (1.30, 1.62), (1.33, 1.70),
    (1.36, 1.65), (1.38, 1.58), (1.25, 1.60), (1.20, 1.68), (1.31, 1.45), (1.35, 1.30),
    (1.38, 1.42), (1.39, 1.10), (1.36, 1.00), (1.32, 1.12), (1.28, 1.05), (1.24, 1.12),
    (1.20, 1.15), (1.37, 1.82), (1.34, 1.88), (1.10, 1.65), (1.06, 1.62), (1.14, 1.55),
    (1.22, 1.57), (1.26, 1.40), (1.29, 1.50), (1.33, 1.58), (1.16, 1.35), (1.09, 1.30),
    (1.35, 1.42),
    (1.42, 1.92), (1.48, 1.85), (1.55, 1.88), (1.60, 1.80), (1.66, 1.75), (1.71, 1.70),
    (1.78, 1.62), (1.84, 1.55), (1.90, 1.48), (1.96, 1.42), (1.45, 1.82), (1.52, 1.80),
    (1.63, 1.72), (1.69, 1.66), (1.75, 1.63), (1.81, 1.58), (1.87, 1.50), (1.93, 1.44),
    (2.00, 1.35), (1.70, 0.92), (1.80, 0.90), (1.95, 0.88), (2.02, 0.87), (1.88, 0.89),
    (1.60, 0.93), (1.50, 0.95), (1.43, 0.97),
    (2.275, 1.37), (2.327, 1.21), (2.471, 1.28), (2.50, 1.10), (2.37, 1.08), (2.396, 1.14),
    (2.315, 1.14), (2.338, 0.98), (2.38, 0.99), (2.287, 1.00), (2.26, 1.03), (2.232, 0.91),
    (2.21, 1.17), (2.21, 1.07), (2.17, 1.22), (2.15, 0.91), (2.12, 0.87), (2.09, 0.87),
    (2.07, 0.92), (2.10, 0.98), (2.40, 1.00), (2.49, 1.00), (2.18, 1.10), (2.20, 0.95),
    (2.24, 1.08), (2.13, 1.15), (2.19, 1.25), (2.23, 1.20), (2.30, 1.05), (2.27, 0.95),
    (2.35, 1.10), (2.42, 1.05), (2.45, 0.97),
]

# fitted regression lines (start and end points)
fit_b = [1.30, 2.21]
fit_low = [3.35, 1.05]
fit_medium = [2.31, 0.87]
fit_high = [1.80, 0.98]

ref_b = [2.0]
ref_cv = [1.0]

x_ticks = [1.0, 1.5, 2.0, 2.5]
y_ticks = [1, 3, 5, 7]

point_colors = ["#ddb053", "#2aae9f", "#c9717e"]
point_alpha = [0.6, 0.6, 0.55]
line_colors = ["#b5952f", "#2b8a7d", "#a55d66"]

# ------------------------------------------------------------------ panel (b) data
r2_components = ["Fixed effects", "Random effects", "Non explained"]
r2_values = [0.675, 0.107, 0.218]
r2_legend_order = ["Non explained", "Random effects", "Fixed effects"]
r2_colors = ["#bdbdbd", "#7897cc", "#f2762e"]
r2_ticks = [0.0, 0.25, 0.5, 0.75, 1.0]

FONT = "Liberation Sans"

# ------------------------------------------------------------------ build tables
rows = []
for level, cols, extra in [("Low", low_columns, low_scatter),
                           ("Medium", medium_columns, medium_scatter),
                           ("High", high_columns, high_scatter)]:
    for bx, ys in cols:
        for cy in ys:
            rows.append({"b": bx, "cv": cy, "Evenness": level, "part": "core"})
    for bx, cy in extra:
        rows.append({"b": bx, "cv": cy, "Evenness": level, "part": "edge"})
pts = pd.DataFrame(rows)

fits = pd.DataFrame(
    [{"b": fit_b[i], "cv": vals[i], "Evenness": lev}
     for lev, vals in [("Low", fit_low), ("Medium", fit_medium), ("High", fit_high)]
     for i in range(2)]
)

W_A, H_A = 571, 626
X_enc = alt.X("b:Q",
              scale=alt.Scale(domain=[0.93, 2.575], nice=False, zero=False),
              axis=alt.Axis(values=x_ticks, format=".1f", title=None, grid=False,
                            domainColor="black", domainWidth=2.5, tickColor="#333333",
                            tickWidth=2, tickSize=6, labelPadding=4, labelFontSize=19,
                            labelColor="#4d4d4d", labelFont=FONT))
Y_enc = alt.Y("cv:Q",
              scale=alt.Scale(domain=[0.168, 7.328], nice=False, zero=False),
              axis=alt.Axis(values=y_ticks, format="d", title=None, grid=False,
                            domainColor="black", domainWidth=2.5, tickColor="#333333",
                            tickWidth=2, tickSize=6, labelPadding=3, labelFontSize=19,
                            labelColor="#4d4d4d", labelFont=FONT))

points = alt.Chart(pts).mark_circle(strokeWidth=0).encode(
    x=X_enc, y=Y_enc,
    color=alt.Color("Evenness:N", scale=alt.Scale(domain=evenness_levels, range=point_colors), legend=None),
    opacity=alt.Opacity("Evenness:N", scale=alt.Scale(domain=evenness_levels, range=point_alpha), legend=None),
    size=alt.Size("part:N", scale=alt.Scale(domain=["core", "edge"], range=[52, 24]), legend=None),
)

lines = alt.Chart(fits).mark_line(strokeWidth=4.5, strokeCap="butt").encode(
    x=X_enc, y=Y_enc,
    color=alt.Color("Evenness:N",
                    scale=alt.Scale(domain=evenness_levels, range=line_colors),
                    sort=evenness_levels,
                    legend=alt.Legend(title="Evenness", orient="none", legendX=604, legendY=249,
                                      titleFontSize=25.5, titleFontWeight="normal", titleColor="black",
                                      titleFont=FONT, titlePadding=10, labelFontSize=25.5,
                                      labelColor="black", labelFont=FONT, labelOffset=15,
                                      labelLimit=0, rowPadding=3, symbolType="stroke", symbolSize=729,
                                      symbolStrokeWidth=4.5, padding=0)),
)

vrule = alt.Chart(pd.DataFrame({"b": ref_b})).mark_rule(
    color="black", strokeWidth=2, strokeDash=[2, 6]).encode(x=X_enc)
hrule = alt.Chart(pd.DataFrame({"cv": ref_cv})).mark_rule(
    color="black", strokeWidth=2, strokeDash=[2, 6]).encode(y=Y_enc)


def label(text, x, y, size, **kw):
    return alt.Chart(pd.DataFrame({"t": [text]})).mark_text(
        fontSize=size, font=FONT, color="black", **kw
    ).encode(text="t:N", x=alt.value(x), y=alt.value(y))


# x-axis title with italic b
xt1 = label("Community", 162, 683.5, 29, align="left", baseline="alphabetic")
xt2 = label("b", 316.7, 683.5, 29, align="left", baseline="alphabetic", fontStyle="italic")
xt3 = label("value", 340.9, 683.5, 29, align="left", baseline="alphabetic")

# y-axis title, two lines, with subscript
yt1 = label("Community dominance", -67, 313, 29, align="center", baseline="alphabetic", angle=270)
yt2 = label("effect [CV", -37, 400, 29, align="left", baseline="alphabetic", angle=270)
yt3 = label("ratio", -31, 272.7, 20, align="left", baseline="alphabetic", angle=270)
yt4 = label("]", -37, 233.8, 29, align="left", baseline="alphabetic", angle=270)

tag_a = label("(a)", -63, 5, 24, align="left", baseline="middle", fontWeight="bold")
# invisible corner marker that fixes the page margin around panel (a)
anchor_a = label(".", -101, -19, 1, align="left", baseline="top", opacity=0)

panel_a = alt.layer(points, lines, vrule, hrule, xt1, xt2, xt3, yt1, yt2, yt3, yt4,
                    tag_a, anchor_a).resolve_scale(color="independent", opacity="independent").properties(
    width=W_A, height=H_A)

# ------------------------------------------------------------------ panel (b)
lo, hi, acc = [], [], 0.0
for v in r2_values:
    lo.append(acc)
    acc += v
    hi.append(acc)
bars = pd.DataFrame({"component": r2_components, "lo": lo, "hi": hi,
                     "x0": [0.0] * 3, "x1": [1.0] * 3})

W_B, H_B = 340, 346
bar = alt.Chart(bars).mark_bar(strokeWidth=0).encode(
    x=alt.X("x0:Q", scale=alt.Scale(domain=[-1.773, 1.084], nice=False, zero=False), axis=None),
    x2="x1:Q",
    y=alt.Y("lo:Q", scale=alt.Scale(domain=[-0.045, 1.05], nice=False, zero=False),
            axis=alt.Axis(values=r2_ticks, format=".2f", title="R²", grid=False, offset=-205,
                          domainColor="black", domainWidth=3, tickColor="#333333",
                          tickWidth=2, tickSize=6, labelPadding=3, labelFontSize=23,
                          labelColor="#4d4d4d", labelFont=FONT, titleFontSize=23,
                          titleFontWeight="normal", titleColor="black", titleFont=FONT,
                          titlePadding=5)),
    y2="hi:Q",
    color=alt.Color("component:N",
                    scale=alt.Scale(domain=r2_legend_order, range=r2_colors),
                    sort=r2_legend_order,
                    legend=alt.Legend(title=None, orient="none", legendX=368, legendY=141,
                                      labelFontSize=23.5, labelColor="black", labelFont=FONT,
                                      labelOffset=12, labelLimit=0, rowPadding=2, symbolType="square",
                                      symbolSize=961, symbolStrokeWidth=0, symbolOpacity=1,
                                      padding=0)),
)

tag_b = label("(b)", -63, 10, 24, align="left", baseline="middle", fontWeight="bold")

panel_b = alt.layer(bar, tag_b).properties(width=W_B, height=H_B)

chart = alt.vconcat(panel_a, panel_b, spacing=24,
                    padding={"left": 0, "top": 0, "right": 0, "bottom": 0}).resolve_scale(
    color="independent", opacity="independent").configure(font=FONT).configure_view(stroke=None)

chart.save("out.html", embed_options={"renderer": "svg", "actions": False})
